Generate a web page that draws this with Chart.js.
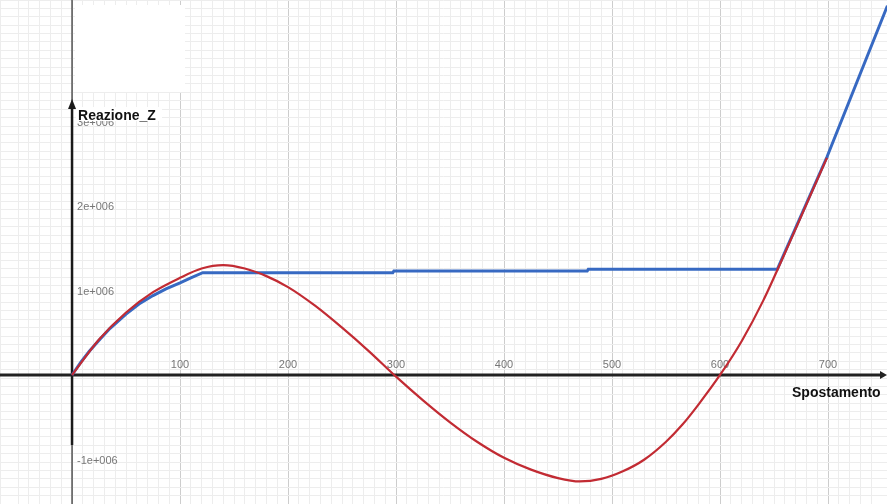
<!DOCTYPE html>
<html>
<head>
<meta charset="utf-8">
<script src="https://cdn.jsdelivr.net/npm/chart.js@4.4.1/dist/chart.umd.min.js"></script>
<style>
  body { margin: 0; background: #fff; }
  canvas { display: block; }
</style>
</head>
<body>
<canvas id="reazione" width="887" height="504"></canvas>
<script>
// curva rossa (lettura dal grafico)
const redX = [0, 25, 50, 75, 100, 120, 140, 160, 180, 200, 225, 250, 275, 300, 325, 350, 375, 400, 425, 450, 470, 490, 510, 530, 550, 565, 580, 600, 620, 640, 660, 680, 699];
const redY = [0, 0.42e6, 0.74e6, 0.98e6, 1.15e6, 1.26e6, 1.30e6, 1.26e6, 1.17e6, 1.04e6, 0.82e6, 0.56e6, 0.28e6, -0.02e6, -0.30e6, -0.56e6, -0.79e6, -0.98e6, -1.12e6, -1.22e6, -1.26e6, -1.23e6, -1.14e6, -1.00e6, -0.79e6, -0.59e6, -0.35e6, 0, 0.40e6, 0.88e6, 1.44e6, 2.02e6, 2.57e6];

// curva blu
const blueX = [0, 8, 16, 25, 35, 50, 62, 75, 87, 100, 110, 121, 297, 298, 477, 478, 653, 699, 755];
const blueY = [0, 0.15e6, 0.28e6, 0.41e6, 0.55e6, 0.72e6, 0.84e6, 0.94e6, 1.02e6, 1.09e6, 1.15e6, 1.21e6, 1.21e6, 1.23e6, 1.23e6, 1.25e6, 1.25e6, 2.58e6, 4.37e6];

const xTicks = [100, 200, 300, 400, 500, 600, 700];
const yTicks = [-1e6, 1e6, 2e6, 3e6];
const yTickLabels = ["-1e+006", "1e+006", "2e+006", "3e+006"];

function toPoints(xs, ys) {
  return xs.map((x, i) => ({ x: x, y: ys[i] }));
}

// assi, etichette e titoli disegnati sopra la griglia
const axesPlugin = {
  id: "axesPlugin",
  beforeDatasetsDraw(chart) {
    const ctx = chart.ctx;
    const xs = chart.scales.x;
    const ys = chart.scales.y;
    const x0 = xs.getPixelForValue(0);
    const y0 = ys.getPixelForValue(0);
    const W = chart.width;
    const H = chart.height;

    ctx.save();
    // macchia bianca in alto a sinistra
    ctx.fillStyle = "#fff";
    ctx.fillRect(x0 + 3, 5, 110, 87);

    // asse Y
    ctx.strokeStyle = "#555";
    ctx.lineWidth = 1.5;
    ctx.beginPath();
    ctx.moveTo(x0, 0);
    ctx.lineTo(x0, H);
    ctx.stroke();
    ctx.strokeStyle = "#1a1a1a";
    ctx.lineWidth = 2.5;
    ctx.beginPath();
    ctx.moveTo(x0, 445);
    ctx.lineTo(x0, 106);
    ctx.stroke();
    ctx.fillStyle = "#1a1a1a";
    ctx.beginPath();
    ctx.moveTo(x0, 99);
    ctx.lineTo(x0 - 4, 109);
    ctx.lineTo(x0 + 4, 109);
    ctx.closePath();
    ctx.fill();

    // asse X
    ctx.strokeStyle = "#222";
    ctx.lineWidth = 3;
    ctx.beginPath();
    ctx.moveTo(0, y0);
    ctx.lineTo(W - 4, y0);
    ctx.stroke();
    ctx.fillStyle = "#222";
    ctx.beginPath();
    ctx.moveTo(W, y0);
    ctx.lineTo(W - 7, y0 - 4);
    ctx.lineTo(W - 7, y0 + 4);
    ctx.closePath();
    ctx.fill();

    // etichette
    ctx.font = "11px 'Liberation Sans', Arial, sans-serif";
    ctx.fillStyle = "#777";
    ctx.textAlign = "center";
    ctx.textBaseline = "middle";
    xTicks.forEach((v) => {
      ctx.fillText(String(v), xs.getPixelForValue(v), y0 - 10);
    });
    ctx.textAlign = "left";
    yTicks.forEach((v, i) => {
      ctx.fillText(yTickLabels[i], x0 + 5, ys.getPixelForValue(v) + 1);
    });

    // titoli
    ctx.fillStyle = "#fff";
    ctx.fillRect(x0 + 4, 107, 86, 14);
    ctx.fillStyle = "#111";
    ctx.font = "bold 14px 'Liberation Sans', Arial, sans-serif";
    ctx.textAlign = "left";
    ctx.fillText("Reazione_Z", x0 + 6, 116);
    ctx.fillText("Spostamento", 792, 393);
    ctx.restore();
  },
};

function gridColor(major) {
  return (c) => {
    const v = c.tick ? c.tick.value : 0;
    const r = Math.abs(v / major - Math.round(v / major));
    return r < 1e-6 ? "#cdcdcd" : "#ededed";
  };
}

const ctx = document.getElementById("reazione").getContext("2d");
const chart = new Chart(ctx, {
  type: "scatter",
  data: {
    datasets: [
      {
        label: "blu",
        data: toPoints(blueX, blueY),
        showLine: true,
        borderColor: "#3769c2",
        borderWidth: 3,
        pointRadius: 0,
        tension: 0,
        order: 1,
      },
      {
        label: "rossa",
        data: toPoints(redX, redY),
        showLine: true,
        borderColor: "#c22b33",
        borderWidth: 2.2,
        pointRadius: 0,
        cubicInterpolationMode: "monotone",
        order: 0,
      },
    ],
  },
  options: {
    responsive: false,
    maintainAspectRatio: false,
    animation: false,
    layout: { padding: 0 },
    plugins: {
      legend: { display: false },
      tooltip: { enabled: false },
    },
    scales: {
      x: {
        type: "linear",
        min: -66.7,
        max: 754.6,
        ticks: { display: false, stepSize: 10 },
        grid: { color: gridColor(100), drawTicks: false, lineWidth: 1 },
        border: { display: false },
      },
      y: {
        type: "linear",
        min: -1.527e6,
        max: 4.438e6,
        ticks: { display: false, stepSize: 1e5 },
        grid: { color: gridColor(1e6), drawTicks: false, lineWidth: 1 },
        border: { display: false },
      },
    },
  },
  plugins: [axesPlugin],
});
</script>
</body>
</html>
